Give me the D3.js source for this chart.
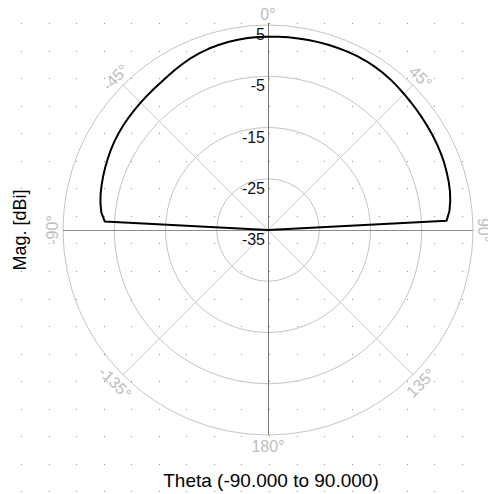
<!DOCTYPE html>
<html>
<head>
<meta charset="utf-8">
<script src="https://cdn.jsdelivr.net/npm/d3@7"></script>
<style>
    body { margin: 0; background: #fff; }
    svg { display: block; font-family: "Liberation Sans", Arial, sans-serif; }
</style>
</head>
<body>
<div id="chart"></div>
<script>
var thetaDeg = [-90, -87, -84, -81, -78, -75, -72, -69, -66, -63, -60, -57, -54, -51, -48, -45, -42, -39, -36, -33, -30, -27, -24, -21, -18, -15, -12, -9, -6, -3,
    0, 3, 6, 9, 12, 15, 18, 21, 24, 27, 30, 33, 36, 39, 42, 45, 48, 51, 54, 57, 60, 63, 66, 69, 72, 75, 78, 81, 84, 87, 90];
var magDbi = [-40, -3.1, -2.3, -1.9, -1.6, -1.38, -1.17, -0.97, -0.78, -0.58, -0.4, -0.27, -0.15, -0.05, 0.05, 0.15, 0.27, 0.42, 0.6, 0.85, 1.15, 1.47, 1.78, 2.03, 2.23, 2.38, 2.5, 2.6, 2.66, 2.7,
    2.72, 2.75, 2.8, 2.85, 2.9, 2.95, 3.0, 3.05, 3.1, 3.13, 3.13, 3.08, 3.0, 2.87, 2.7, 2.54, 2.4, 2.29, 2.2, 2.12, 2.05, 1.98, 1.9, 1.8, 1.65, 1.5, 1.3, 1.0, 0.6, -0.1, -40];
var ringTicks = [5, -5, -15, -25, -35];
var spokeAngles = [0, 45, 90, 135, 180, -135, -90, -45];
var spokeLabels = ["0°", "45°", "90°", "135°", "180°", "-135°", "-90°", "-45°"];
var xTitle = "Theta (-90.000 to 90.000)";
var yTitle = "Mag. [dBi]";

var width = 488, height = 494;
var cx = 268, cy = 230, outerR = 205;

var svg = d3.select("#chart").append("svg")
    .attr("width", width)
    .attr("height", height);

var r = d3.scaleLinear().domain([-35, 5]).range([0, outerR]).clamp(true);

// dotted background grid
var dotsX = d3.range(21, 470, 27.55);
var dotsY = d3.range(23, 494, 27.55);
var dots = svg.append("g").attr("fill", "#8f8f8f");
dotsY.forEach(function (y) {
    dotsX.forEach(function (x) {
        dots.append("rect").attr("x", Math.round(x)).attr("y", Math.round(y)).attr("width", 1).attr("height", 1);
    });
});

var plot = svg.append("g").attr("transform", "translate(" + cx + "," + cy + ")");

plot.selectAll("circle.ring")
    .data(ringTicks.filter(function (d) { return d > -35; }))
    .enter().append("circle")
    .attr("class", "ring")
    .attr("r", function (d) { return r(d); })
    .attr("fill", "none")
    .attr("stroke", "#c4c4c4")
    .attr("stroke-width", 1);

function rad(a) { return a * Math.PI / 180; }

plot.selectAll("line.spoke")
    .data(spokeAngles.filter(function (d) { return d % 90 != 0; }))
    .enter().append("line")
    .attr("class", "spoke")
    .attr("x1", 0).attr("y1", 0)
    .attr("x2", function (d) { return outerR * Math.sin(rad(d)); })
    .attr("y2", function (d) { return -outerR * Math.cos(rad(d)); })
    .attr("stroke", "#c8c8c8")
    .attr("stroke-width", 1);

// main axes
plot.append("line").attr("x1", -outerR).attr("x2", outerR).attr("y1", 0.5).attr("y2", 0.5)
    .attr("stroke", "#8a8a8a").attr("stroke-width", 1);
plot.append("line").attr("x1", 0.5).attr("x2", 0.5).attr("y1", -outerR - 2).attr("y2", outerR)
    .attr("stroke", "#777").attr("stroke-width", 1);

plot.selectAll("text.angle")
    .data(spokeAngles)
    .enter().append("text")
    .attr("class", "angle")
    .attr("transform", function (d) {
        var rr = 216;
        var x = rr * Math.sin(rad(d)), y = -rr * Math.cos(rad(d));
        var rot = d;
        if (d > 90) rot = d - 180;
        if (d < -90) rot = d + 180;
        return "translate(" + x + "," + y + ") rotate(" + rot + ")";
    })
    .attr("text-anchor", "middle")
    .attr("dy", "0.36em")
    .attr("fill", "#bdbdbd")
    .attr("font-size", 16)
    .text(function (d, i) { return spokeLabels[i]; });

plot.selectAll("text.tick")
    .data(ringTicks)
    .enter().append("text")
    .attr("class", "tick")
    .attr("x", -3)
    .attr("y", function (d) { return -r(d) + 15; })
    .attr("text-anchor", "end")
    .attr("fill", "#111")
    .attr("font-size", 16)
    .text(function (d) { return d; });

var line = d3.lineRadial()
    .angle(function (d, i) { return rad(thetaDeg[i]); })
    .radius(function (d) { return r(d); });

plot.append("path")
    .datum(magDbi)
    .attr("d", line)
    .attr("fill", "none")
    .attr("stroke", "#000")
    .attr("stroke-width", 2)
    .attr("stroke-linejoin", "round");

svg.append("text")
    .attr("x", 271)
    .attr("y", 487)
    .attr("text-anchor", "middle")
    .attr("font-size", 19)
    .attr("fill", "#000")
    .text(xTitle);

svg.append("text")
    .attr("transform", "translate(26," + cy + ") rotate(-90)")
    .attr("text-anchor", "middle")
    .attr("font-size", 18)
    .attr("fill", "#000")
    .text(yTitle);
</script>
</body>
</html>
